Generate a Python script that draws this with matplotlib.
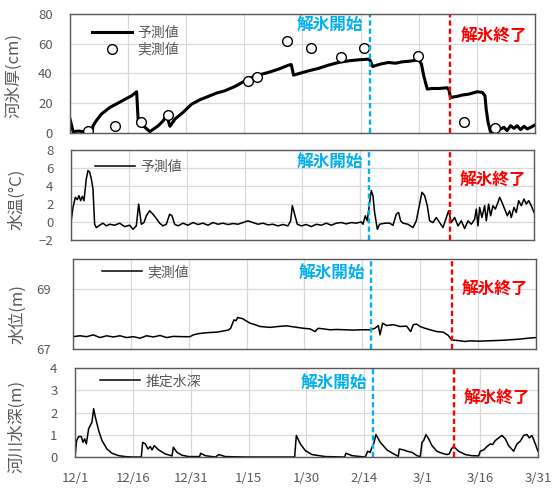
import matplotlib
matplotlib.use('Agg')
import matplotlib.pyplot as plt

plt.rcParams['font.family'] = ['Noto Sans CJK JP', 'DejaVu Sans']

# x axis: days since 12/1
tick_days = [0, 15, 30, 45, 60, 75, 90, 105, 120]
tick_labels = ['12/1', '12/16', '12/31', '1/15', '1/30', '2/14', '3/1', '3/16', '3/31']
melt_start = 77.3
melt_end = 98.2

# river ice thickness (cm)
ice_day = [0, 0.34, 0.8, 2.1, 3.4, 4.7, 5.7, 5.95, 6.8, 8.1, 10.3, 12.4, 14.6, 15.9, 17.2,
           17.6, 18.9, 20.6, 22.8, 24.1, 24.9, 25.8, 27.1, 29.2, 31.4, 33.5, 35.7, 37.8, 40,
           42.6, 45.2, 47.8, 51.2, 53.8, 56.4, 57.1, 57.7, 61.6, 64.1, 66.7, 69.3, 71.9, 74.5,
           77.1, 77.5, 78.1, 80.1, 82.2, 84.0, 85.7, 87.8, 90, 90.7, 91.3, 92.2, 93.4, 95.2,
           97.3, 97.8, 98.2, 99.9, 101.2, 102.9, 105.1, 106.4, 107.1, 107.4, 107.9, 108.5,
           109.8, 111.1, 112, 112.8, 113.7, 114.6, 115.4, 116.3, 117.2, 118, 118.9, 120]
ice_pred = [9.4, 6, 0.9, 1.3, 0.9, 1.1, 0.9, 4.9, 8.3, 12.7, 17.2, 20.1, 23.2, 25, 27.7,
            8.3, 4.9, 0.9, 4.9, 8.3, 12.1, 4.5, 9.4, 13.9, 19.4, 22.3, 24.6, 26.8, 28.4,
            31.3, 35.1, 38.4, 40.7, 42.9, 45.6, 46, 38.9, 41.8, 43.4, 45.6, 47.4, 48.5, 49.2,
            49.6, 48.5, 44.7, 46.3, 47.4, 46.9, 47.8, 48.3, 49.2, 46.3, 38.4, 29.5, 29.9, 29.9,
            30.4, 29, 23.9, 24.6, 25.5, 26.1, 27.7, 27.3, 25, 16.1, 7.2, 0.9,
            1.6, 2.7, 3.8, 1.6, 4.9, 3.1, 4.9, 2.2, 4.5, 2.7, 3.8, 5.4]
obs_day = [4.7, 11.6, 18.4, 25.3, 46.0, 48.2, 56.0, 62.2, 70.0, 75.8, 89.7, 101.6, 109.6]
obs_ice = [1, 4.5, 7.2, 12, 35, 37.3, 61.5, 57.4, 51.4, 56.8, 51.8, 7.2, 3.1]

# water temperature (deg C)
temp_day = [0, 0.52, 1.12, 1.64, 2.07, 2.5, 2.94, 3.37, 3.97, 4.41, 4.84, 5.27, 5.7, 6.13,
            6.57, 7.43, 8.29, 9.16, 10.02, 11.32, 12.61, 13.91, 15.2, 16.07, 16.93, 17.54,
            18.23, 18.92, 19.52, 20.39, 21.25, 22.12, 22.98, 23.84, 24.71, 25.57, 26.18, 26.87,
            27.73, 29.03, 30.32, 31.62, 32.92, 34.21, 35.51, 36.8, 38.1, 39.4, 40.69, 42,
            43.28, 44.58, 45.87, 47.17, 48.47, 49.76, 51.06, 52.35, 53.65, 54.95, 56.24, 56.93,
            57.37, 57.97, 58.66, 59.7, 61, 62.29, 63.59, 64.88, 66.18, 67.47, 68.77, 70.06,
            71.36, 72.66, 73.95, 75.25, 75.68, 76.29, 76.8, 77.41, 77.84, 78.27, 78.7, 79.4,
            80, 81.3, 82.6, 83.46, 84.32, 84.92, 85.44, 86.05, 87.34, 88.64, 89.5, 90.37,
            90.97, 91.66, 92.35, 92.96, 93.82, 94.69, 95.55, 96.41, 97.28, 97.88, 98.57, 99.44,
            100.3, 101.17, 102.03, 102.9, 103.76, 104.62, 105.05, 105.49, 105.92, 106.52,
            107.21, 107.65, 108.25, 108.77, 109.37, 109.98, 110.67, 111.1, 111.71, 112.4,
            113.09, 113.69, 114.12, 114.82, 115.42, 116.03, 116.72, 117.41, 118.01, 118.62,
            119.31, 120]
temp_val = [-0.06, 1.62, 2.74, 2.48, 2.93, 2.37, 2.85, 2.37, 4.79, 5.72, 5.54, 4.79, 3.67, -0.25,
            -0.62, -0.36, -0.13, -0.43, -0.25, -0.36, -0.13, -0.51, -0.36, -0.81, -0.43, 1.99,
            -0.25, -0.06, 0.69, 1.25, 0.87, 0.39, -0.13, -0.43, -0.25, 0.87, 0.69, -0.25,
            -0.43, -0.13, -0.36, -0.06, -0.28, -0.13, -0.36, -0.06, -0.25, -0.13, -0.28, -0.17,
            -0.25, -0.06, 0.13, -0.06, -0.25, -0.13, -0.32, -0.25, -0.43, -0.28, -0.43, 0.13,
            1.81, 0.87, -0.25, -0.43, -0.28, -0.51, -0.25, -0.36, -0.13, -0.36, -0.13, -0.06,
            -0.21, -0.06, -0.13, 0.01, -0.25, 0.69, 0.13, 2.18, 3.49, 2.93, 1.06, -0.81,
            -0.25, -0.13, -0.13, -0.36, 0.87, 1.06, 0.13, -0.13, -0.25, -0.62, 0.13, 1.99,
            3.3, 2.93, 1.81, 0.13, -0.06, 0.5, -0.06, -0.62, 0.5, 1.25, -0.06, 0.5,
            -0.43, 0.13, -0.73, 0.13, -0.25, 0.31, 1.43, -0.43, 1.62, 0.5,
            1.81, 0.13, 1.99, 0.69, 1.81, 1.43, 2.18, 2.74, 2.18, 1.43,
            0.69, 1.25, 0.5, 1.62, 1.06, 2.37, 1.81, 2.55, 1.99, 2.37,
            1.81, 1.06]

# water level (m)
lvl_day = [0, 1.81, 3.54, 5.27, 7, 8.73, 10.45, 12.18, 13.91, 15.64, 17.37, 19.09, 20.82, 22.55,
           24.28, 26, 28.6, 30.33, 31.19, 32.48, 33.78, 35.51, 37.24, 38.96, 40.26, 40.86,
           41.38, 41.73, 42.25, 42.68, 43.28, 43.97, 44.84, 45.87, 47.17, 48.47, 51.06, 53.22,
           55.38, 57.54, 59.7, 61.43, 62.72, 63.59, 64.88, 66.61, 68.34, 70.5, 72.66, 74.82,
           76.98, 78.27, 79.14, 79.57, 80.26, 81.3, 83.03, 84.75, 86.48, 87.52, 88.21, 89.08,
           89.94, 91.23, 92.53, 94.25, 95.98, 97.28, 98.14, 99.87, 101.6, 102.9, 105.05,
           107.21, 109.37, 111.53, 113.69, 115.85, 118.01, 120]
lvl_val = [67.41, 67.44, 67.41, 67.47, 67.38, 67.44, 67.40, 67.44, 67.38, 67.41, 67.36, 67.44,
           67.40, 67.45, 67.38, 67.42, 67.41, 67.41, 67.47, 67.51, 67.53, 67.55, 67.56, 67.60,
           67.63, 67.69, 67.86, 67.97, 67.94, 68.05, 68.03, 68.01, 67.94, 67.86, 67.81, 67.75,
           67.72, 67.75, 67.77, 67.73, 67.69, 67.67, 67.58, 67.69, 67.67, 67.64, 67.65, 67.64,
           67.63, 67.64, 67.64, 67.69, 67.78, 67.47, 67.86, 67.78, 67.81, 67.75, 67.76, 67.58,
           67.81, 67.83, 67.75, 67.69, 67.64, 67.58, 67.56, 67.45, 67.30, 67.28, 67.25, 67.27,
           67.26, 67.27, 67.28, 67.29, 67.31, 67.33, 67.36, 67.38]

# estimated river depth (m)
dep_day = [0, 0.43, 0.95, 1.64, 2.07, 2.51, 2.94, 3.54, 3.97, 4.41, 4.84, 5.27, 6.13, 7, 8.29,
           9.59, 11.32, 13.05, 14.77, 17.19, 17.54, 18.23, 18.92, 19.52, 19.96, 20.56, 21.68,
           23.41, 25.14, 25.49, 26.44, 27.73, 29.46, 32.31, 32.57, 33.78, 36.37, 37.32, 38.96,
           44.15, 56.93, 57.37, 58.4, 59.7, 61.43, 64.88, 69.89, 70.24, 71.79, 75.25, 75.85,
           76.54, 76.8, 77.41, 78.01, 79.14, 80.86, 82.59, 83.8, 84.06, 85.18, 86.05, 87.34,
           88.64, 89.5, 89.94, 90.37, 90.97, 91.66, 92.53, 93.82, 95.12, 96.41, 97.02, 97.54,
           98.14, 99.44, 101.17, 102.9, 104.62, 105.05, 105.92, 106.78, 107.65, 108.25,
           108.94, 109.81, 110.67, 111.53, 112.4, 113.69, 114.56, 115.42, 116.29, 117.15,
           117.76, 118.45, 119.31, 120]
dep_val = [0, 0.74, 0.92, 0.92, 0.66, 0.82, 0.59, 1.27, 1.42, 1.57, 2.17, 1.8, 1.19, 0.74, 0.36,
           0.17, 0.06, 0.02, 0, 0, 0.66, 0.59, 0.36, 0.47, 0.32, 0.51, 0.32,
           0.14, 0.05, 0.44, 0.21, 0.08, 0.02, 0.02, 0.17, 0.06, 0, 0.11, 0.02,
           0, 0, 0.97, 0.59, 0.29, 0.11, 0.02, 0, 0.17, 0.06, 0, 0.26,
           0.21, 0.36, 0.59, 1.01, 0.66, 0.32, 0.14, 0.03, 0.36, 0.32, 0.26, 0.21,
           0.06, 0.02, 0.66, 0.74, 1.01, 0.82, 0.51, 0.26, 0.17, 0.11, 0.14, 0.36,
           0.47, 0.26, 0.11, 0.06, 0.05, 0.26, 0.32, 0.47, 0.59, 0.56,
           0.74, 0.86, 0.97, 0.82, 0.51, 0.26, 0.59, 0.71, 0.97, 1.01,
           0.86, 0.97, 0.59, 0.26]

GRAY = '#595959'
BLUE = '#00B0F0'
RED = '#FF0000'

fig = plt.figure(figsize=(5.55, 4.9), dpi=100)
ax1 = fig.add_axes([0.1261, 0.7286, 0.8378, 0.2429])
ax2 = fig.add_axes([0.1279, 0.5102, 0.8342, 0.1837])
ax3 = fig.add_axes([0.1315, 0.2878, 0.8342, 0.1837])
ax4 = fig.add_axes([0.1351, 0.0673, 0.8342, 0.1816])

ax1.plot(ice_day, ice_pred, color='black', lw=2.2, label='予測値')
ax1.plot(obs_day, obs_ice, 'o', ms=7, mfc='white', mec='black', mew=1, label='実測値')
ax2.plot(temp_day, temp_val, color='black', lw=1.1, label='予測値')
ax3.plot(lvl_day, lvl_val, color='black', lw=1.1, label='実測値')
ax4.plot(dep_day, dep_val, color='black', lw=1.1, label='推定水深')

ax1.set_ylim(0, 80)
ax1.set_yticks([0, 20, 40, 60, 80])
ax2.set_ylim(-2, 8)
ax2.set_yticks([-2, 0, 2, 4, 6, 8])
ax3.set_ylim(67, 70)
ax3.set_yticks([67, 69])
ax4.set_ylim(0, 4)
ax4.set_yticks([0, 1, 2, 3, 4])

ylabels = ['河氷厚(cm)', '水温(°C)', '水位(m)', '河川水深(m)']
label_pos = [(-0.103, 0.483), (-0.099, 0.456), (-0.1, 0.39), (-0.108, 0.34)]
legend_pos = [(0.047, 0.9), (0.052, 0.89), (0.062, 0.93), (0.054, 0.93)]
text_y = [(0.91, 0.81), (0.87, 0.656), (0.84, 0.656), (0.83, 0.65)]
ypad = [12.5, 12.5, 15.5, 12.5]

for i, ax in enumerate([ax1, ax2, ax3, ax4]):
    ax.set_xlim(0, 120)
    ax.set_xticks(tick_days)
    ax.grid(True, color='#D9D9D9', lw=0.9)
    ax.set_axisbelow(True)
    for s in ax.spines.values():
        s.set_color(GRAY)
        s.set_linewidth(1.0)
    ax.tick_params(length=0, labelsize=9.5, labelcolor=GRAY)
    ax.tick_params(axis='y', pad=ypad[i])
    if ax is ax4:
        ax.set_xticklabels(tick_labels)
        ax.tick_params(axis='x', pad=11)
    else:
        ax.set_xticklabels([])
    ax.set_ylabel(ylabels[i], fontsize=12, color=GRAY)
    ax.yaxis.set_label_coords(*label_pos[i])
    ax.axvline(melt_start, color=BLUE, lw=1.7, ls=(0, (2.2, 1.3)))
    ax.axvline(melt_end, color=RED, lw=1.7, ls=(0, (2.2, 1.3)))
    tr = ax.get_xaxis_transform()
    ax.text(75.7, text_y[i][0], '解氷開始', transform=tr, color=BLUE, fontsize=12,
            fontweight='bold', ha='right', va='center')
    ax.text(100.8, text_y[i][1], '解氷終了', transform=tr, color=RED, fontsize=12,
            fontweight='bold', ha='left', va='center')
    ax.legend(loc='upper left', bbox_to_anchor=legend_pos[i], frameon=False, fontsize=10,
              labelcolor=GRAY, handlelength=2.9, handletextpad=0.35, borderpad=0,
              borderaxespad=0, labelspacing=0.2, numpoints=1)

fig.savefig('out.png', dpi=100)
